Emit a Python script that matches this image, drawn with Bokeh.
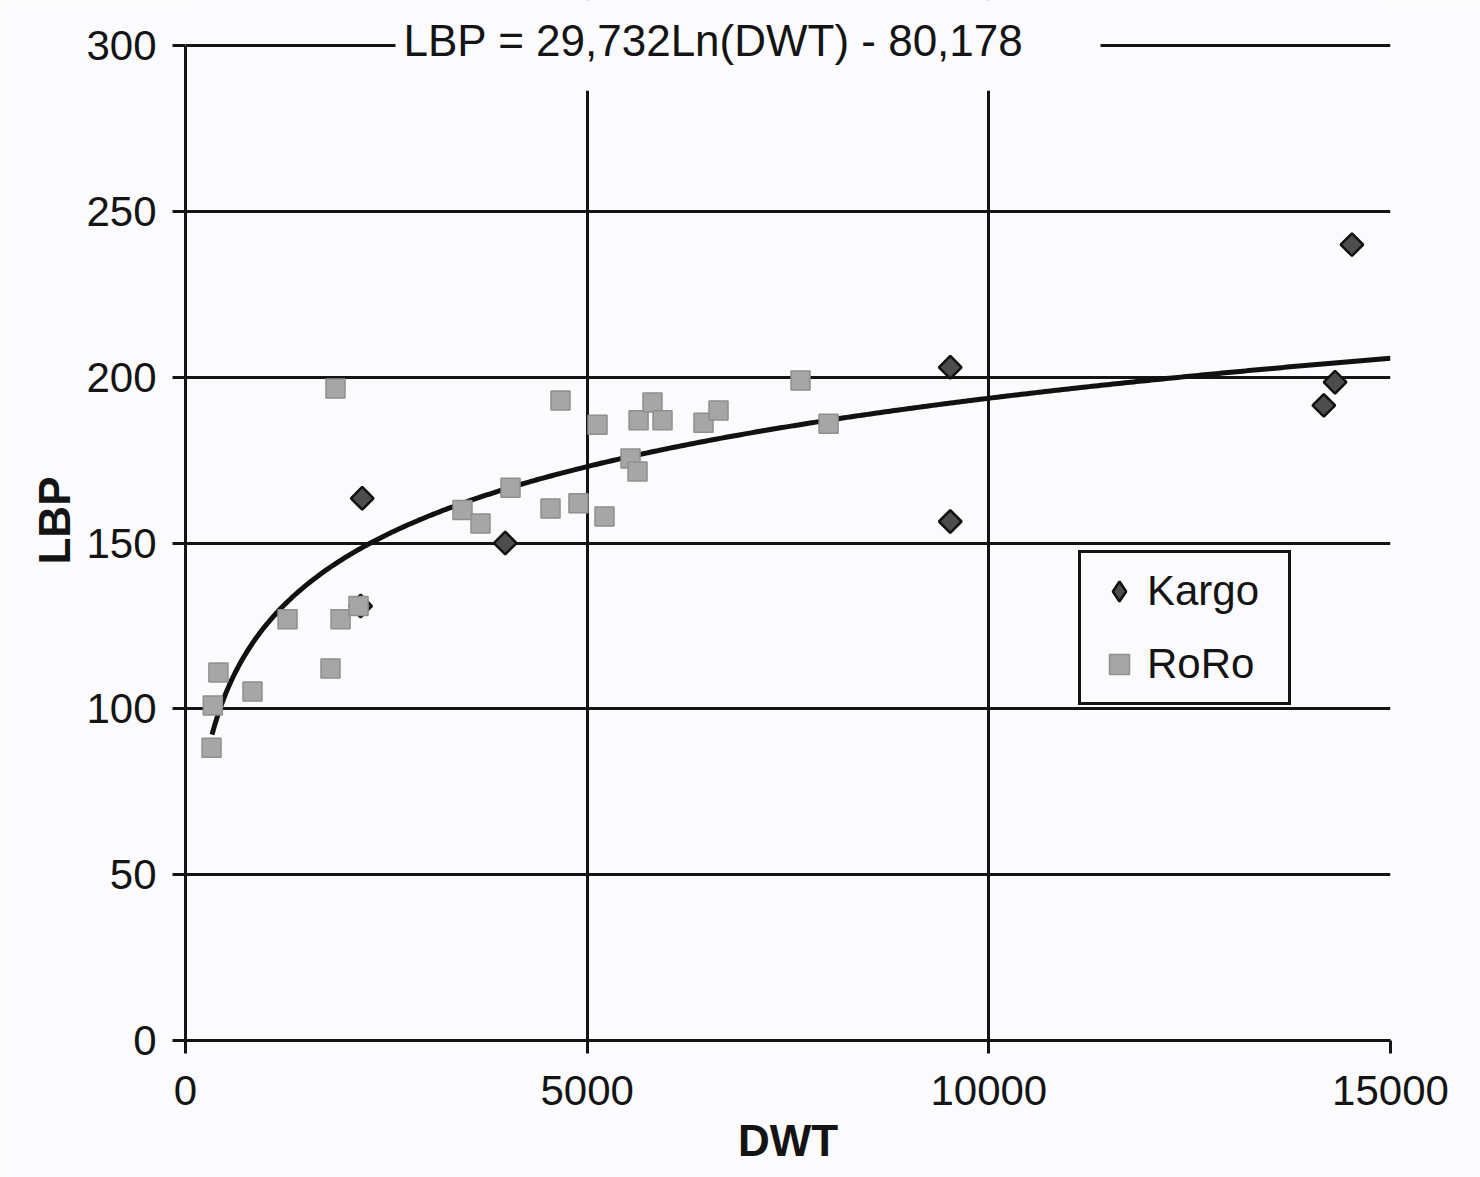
import numpy as np
from bokeh.plotting import figure
from bokeh.models import (Range1d, FixedTicker, Legend, LegendItem, BoxAnnotation, Label)
from bokeh.embed import file_html
from bokeh.resources import INLINE

# ---- data ----
kargo_dwt = [2200, 2180, 3980, 9520, 9520, 14520, 14310, 14170]
kargo_lbp = [163.5, 131, 150, 203, 156.5, 240, 198.5, 191.5]

roro_dwt = [324, 340, 410, 834, 1270, 1805, 1930, 2154, 1867,
            3448, 3672, 4046, 4544, 4668, 4892, 5129, 5216,
            5540, 5627, 5640, 5813, 5938, 6448, 6635, 7656, 8005]
roro_lbp = [88.3, 101, 111, 105.2, 127, 112.2, 127, 131, 196.6,
            160, 155.9, 166.7, 160.4, 193, 162, 185.7, 158,
            175.5, 171.6, 187, 192.4, 187, 186.3, 190, 199, 186]

trend_a = 29.732
trend_b = -80.178
trend_x_start = 330
trend_x_end = 15000

title_text = "LBP = 29,732Ln(DWT) - 80,178"
x_ticks = [0, 5000, 10000, 15000]
y_ticks = [0, 50, 100, 150, 200, 250, 300]
y_max = 300

FONT = "Liberation Sans"
BG = "#fbfbfd"
INK = "#141414"

p = figure(width=1480, height=1177, output_backend="svg", toolbar_location=None,
           x_range=Range1d(0, 15000), y_range=Range1d(0, 313.6),
           min_border_left=185, min_border_right=90, min_border_top=0, min_border_bottom=137,
           background_fill_color=BG, border_fill_color=BG)
p.outline_line_color = None

for ax in (p.xaxis[0], p.yaxis[0]):
    ax.axis_line_width = 3
    ax.axis_line_color = INK
    ax.major_tick_line_width = 3
    ax.major_tick_line_color = INK
    ax.major_tick_out = 13
    ax.major_tick_in = 0
    ax.minor_tick_line_color = None
    ax.major_label_text_font = FONT
    ax.major_label_text_font_size = "42px"
    ax.major_label_text_color = INK
    ax.axis_label_text_font = FONT
    ax.axis_label_text_font_size = "44px"
    ax.axis_label_text_font_style = "bold"
    ax.axis_label_text_color = INK

p.xaxis.ticker = FixedTicker(ticks=x_ticks)
p.yaxis.ticker = FixedTicker(ticks=y_ticks)
p.yaxis.bounds = (0, y_max)
p.xaxis.axis_label = "DWT"
p.yaxis.axis_label = "LBP"
p.xaxis.major_label_standoff = 22
p.yaxis.major_label_standoff = 16
p.xaxis.axis_label_standoff = 8
p.yaxis.axis_label_standoff = 4

p.grid.grid_line_color = INK
p.grid.grid_line_width = 3

# trend line from the fitted equation
tx = np.linspace(trend_x_start, trend_x_end, 400)
ty = trend_a * np.log(tx) + trend_b
p.line(tx, ty, line_color="#111111", line_width=5)

KARGO_FILL = "#4d4d4d"
KARGO_LINE = "#111111"
RORO_FILL = "#a6a6a6"
RORO_LINE = "#8f8f8f"

# diamond renderer (used for the legend), covered by the rotated squares drawn on top
k_leg = p.scatter(kargo_dwt, kargo_lbp, marker="diamond", size=15,
                  fill_color=KARGO_FILL, line_color=KARGO_LINE, line_width=2.5)
p.scatter(kargo_dwt, kargo_lbp, marker="square", angle=np.pi / 4, size=16,
          fill_color=KARGO_FILL, line_color=KARGO_LINE, line_width=2.5)
r = p.scatter(roro_dwt, roro_lbp, marker="square", size=19,
              fill_color=RORO_FILL, line_color=RORO_LINE, line_width=1.5)

# hide everything above the top gridline
p.add_layout(BoxAnnotation(bottom=y_max + 0.5, fill_color=BG, fill_alpha=1.0, line_color=None))
# white box behind the equation
p.add_layout(BoxAnnotation(left=2614, right=11390, bottom=286.4,
                           fill_color=BG, fill_alpha=1.0, line_color=None))
p.add_layout(Label(x=6573, y=301.5, text=title_text, text_align="center",
                   text_baseline="middle", text_font=FONT, text_font_size="44px",
                   text_color=INK))

legend = Legend(items=[LegendItem(label="Kargo", renderers=[k_leg]),
                       LegendItem(label="RoRo", renderers=[r])],
                location=(893, 335), orientation="vertical",
                label_text_font=FONT, label_text_font_size="42px", label_text_color=INK,
                label_height=50, label_width=128, glyph_height=50, glyph_width=50,
                label_standoff=3, spacing=23, padding=13, margin=0,
                border_line_color=INK, border_line_width=3, border_line_alpha=1.0,
                background_fill_color=BG, background_fill_alpha=1.0)
p.add_layout(legend, "center")

open("out.html", "w").write(file_html(p, INLINE))
